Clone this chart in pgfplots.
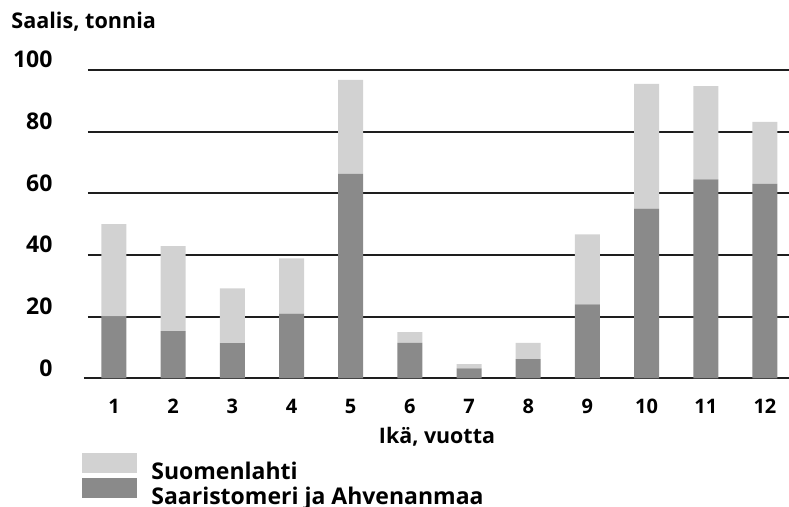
\documentclass[border=0pt]{standalone}
\usepackage{fontspec}
\setmainfont{Open Sans}
\usepackage{pgfplots}
\pgfplotsset{compat=1.18}
\definecolor{darkbar}{RGB}{138,138,138}
\definecolor{lightbar}{RGB}{210,210,210}
\definecolor{gridc}{RGB}{30,30,30}
\begin{document}
\begin{tikzpicture}
\useasboundingbox (0pt,0pt) rectangle (394.5pt,253.5pt);
\begin{axis}[
  at={(44pt,64.35pt)}, anchor=south west,
  scale only axis, width=350.5pt, height=154.15pt,
  xmin=0.561, xmax=12.406, ymin=0, ymax=100,
  ybar stacked, bar width=12.5pt,
  axis line style={draw=none},
  clip=false,
  ymajorgrids, grid style={gridc, line width=0.9pt},
  ytick={0,20,40,60,80,100},
  xtick={1,...,12},
  major tick length=0pt,
  /pgf/number format/assume math mode=true,
  xticklabel style={font=\bfseries\fontsize{10}{12}\selectfont, anchor=base, inner sep=0pt, yshift=-17.85pt},
  yticklabel style={font=\bfseries\fontsize{11.5}{13}\selectfont, anchor=base east, inner sep=0pt, xshift=-17.6pt, yshift=1pt},
  reverse legend,
  legend cell align=left,
  legend image code/.code={\fill[#1] (0pt,0pt) rectangle (27.5pt,10pt);},
  legend style={at={(-0.0086,-0.240)}, anchor=north west, draw=none, fill=none, inner sep=0pt,
    font=\bfseries\fontsize{11.5}{14}\selectfont, column sep=7pt, row sep=-2.6pt,
    nodes={inner sep=0pt, text height=8.5pt, text depth=2pt}},
]
\addplot[fill=darkbar, draw=none] coordinates {
 (1,20) (2,15.3) (3,11.4) (4,21) (5,66.3) (6,11.5) (7,3.2) (8,6.2) (9,24) (10,55) (11,64.5) (12,63.1)};
\addlegendentry{Saaristomeri ja Ahvenanmaa}
\addplot[fill=lightbar, draw=none] coordinates {
 (1,30) (2,27.6) (3,17.8) (4,17.9) (5,30.5) (6,3.5) (7,1.4) (8,5.3) (9,22.7) (10,40.5) (11,30.3) (12,20.1)};
\addlegendentry{Suomenlahti}
\draw[gridc, line width=1.1pt] (axis cs:0.49,0) -- (axis cs:12.406,0);
\end{axis}
\node[anchor=base west, inner sep=0pt, font=\bfseries\fontsize{10.8}{12}\selectfont] at (5.5pt,239.3pt) {Saalis, tonnia};
\node[anchor=base, inner sep=0pt, font=\bfseries\fontsize{10.7}{12}\selectfont] at (218.5pt,31.85pt) {Ikä, vuotta};
\end{tikzpicture}
\end{document}
